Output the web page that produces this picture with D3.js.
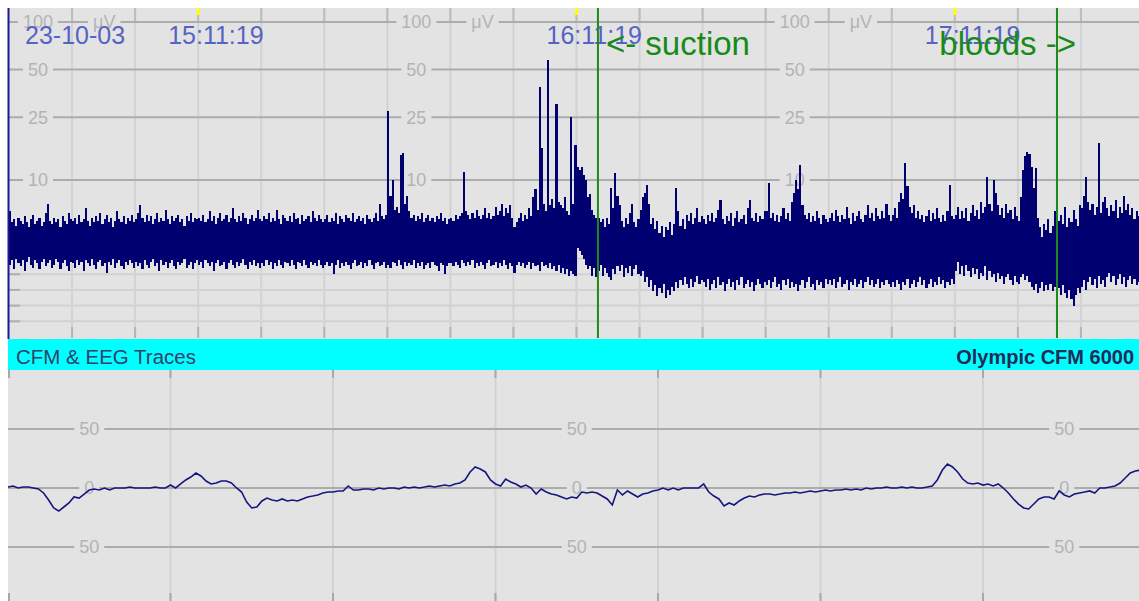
<!DOCTYPE html>
<html>
<head>
<meta charset="utf-8">
<script src="https://cdn.jsdelivr.net/npm/d3@7"></script>
<style>
  html, body { margin: 0; padding: 0; background: #ffffff; overflow: hidden; }
  svg { display: block; font-family: "Liberation Sans", Arial, sans-serif; }
</style>
</head>
<body>
<svg id="chart" width="1139" height="601"></svg>
<script>
// ---- Recording header ----
const dateLabel = "23-10-03";
const hourLabels = ["15:11:19", "16:11:19", "17:11:19"];
const hourMinutes = [30, 90, 150];            // minutes after 14:41:19

// ---- aEEG (CFM) amplitude axis, µV ----
const aeegTicks = [100, 50, 25, 10];
const aeegMinor = [1, 2, 3, 4, 5];
const aeegLabelMinutes = [4.6, 64.6, 124.6];
const aeegUnitOffset = 10.5;                  // minutes right of the "100" label

// ---- Annotations ----
const eventText = ["<- suction", "bloods ->"];
const eventMinute = [93.4, 166.2];

// ---- aEEG margins, one pair every 20 s (µV) ----
const aeegUpper = [
  8.0,7.3,7.5,7.1,7.6,7.4,7.2,7.7,7.3,7.0,7.5,7.8,7.2,7.4,7.6,7.1,7.3,7.9,8.5,7.4,7.2,7.6,7.3,7.5,7.0,7.7,7.4,7.2,7.9,7.5,
  7.4,7.6,7.2,7.8,7.3,7.5,8.2,7.4,7.1,7.6,7.3,7.7,7.4,7.9,7.2,7.5,7.8,7.3,7.6,7.0,7.4,8.0,7.5,7.3,7.7,7.2,7.6,7.4,7.8,7.3,
  7.5,7.9,8.4,7.6,7.3,7.8,7.4,7.7,7.2,7.5,7.9,7.3,7.6,7.4,8.1,7.5,7.2,7.7,7.4,7.6,7.8,7.3,7.5,7.1,7.7,7.4,7.9,7.3,7.6,7.5,
  7.6,7.4,7.8,7.3,7.5,8.0,7.4,7.7,7.2,7.6,7.9,7.4,7.5,7.8,7.3,7.6,8.2,7.5,7.3,7.7,7.4,7.9,7.6,7.2,7.5,7.8,7.4,7.6,8.1,7.5,
  7.4,7.7,7.5,7.9,7.3,7.6,7.4,8.1,7.5,7.2,7.8,7.6,7.4,7.7,7.3,7.9,7.5,7.6,7.2,7.8,7.4,7.5,7.7,7.3,8.0,7.6,7.4,7.8,7.5,7.3,
  7.5,7.8,7.3,7.6,7.4,7.9,7.2,7.7,7.5,7.3,7.8,7.6,7.4,7.9,7.3,7.5,7.7,7.4,7.6,7.2,7.8,7.5,7.3,7.6,7.9,7.4,8.5,7.7,7.5,7.8,
  27.3,9.0,10.0,8.1,8.3,7.9,14.4,14.8,8.5,9.0,8.0,7.6,7.8,7.4,7.7,7.5,7.9,7.3,7.6,7.8,7.4,7.6,7.3,7.7,7.5,7.9,7.4,7.6,7.2,7.5,
  7.6,7.4,7.8,7.5,7.7,7.9,11.2,8.0,7.8,7.5,7.9,7.6,8.1,7.7,7.5,7.8,8.2,7.6,7.9,7.5,7.7,8.3,7.8,8.0,8.5,7.7,8.2,7.9,8.4,7.6,
  7.0,7.3,7.6,7.9,7.4,7.8,7.5,8.2,7.7,8.9,9.4,8.1,38.8,16.0,8.5,8.0,57.5,8.4,8.8,8.2,30.3,8.6,8.4,8.2,8.9,8.0,7.8,25.0,8.5,16.7,
  12.0,11.5,12.0,10.8,10.0,8.9,9.1,8.1,7.8,7.6,7.6,7.3,7.5,7.0,7.6,7.2,9.5,8.2,11.0,9.0,8.4,7.4,7.0,7.6,7.2,7.9,8.5,7.3,7.0,7.5,
  8.1,8.9,9.2,9.7,8.5,7.2,7.6,6.9,7.4,6.6,7.1,6.4,7.0,6.8,7.3,6.5,7.2,9.5,8.0,7.1,7.5,6.9,7.8,7.4,7.9,7.2,7.6,8.2,7.3,7.7,
  7.5,7.2,7.8,7.4,7.9,7.3,7.6,8.1,8.7,7.5,7.2,7.7,7.4,7.9,7.1,7.6,8.0,7.3,7.5,7.8,7.2,8.2,8.7,7.6,7.4,7.9,7.3,7.7,7.5,8.0,
  8.0,9.8,7.6,7.9,7.4,7.8,7.3,7.7,8.2,7.5,7.9,7.4,8.6,9.2,10.0,9.4,12.5,8.4,7.8,7.5,7.9,7.3,7.7,7.4,8.0,7.6,7.2,7.8,7.5,7.3,
  7.6,7.9,7.4,8.1,7.7,7.3,7.8,7.5,8.3,7.6,7.2,7.9,7.4,7.7,8.0,7.5,7.3,7.8,8.4,7.6,7.9,7.4,8.2,7.7,7.5,8.0,7.6,8.5,7.8,7.4,
  7.8,8.2,7.6,8.6,9.2,8.8,12.8,9.6,8.3,7.9,8.4,7.6,8.0,7.5,7.8,7.3,7.7,8.1,7.4,7.9,7.5,8.2,7.6,7.3,7.8,7.4,8.0,9.7,7.7,7.5,
  7.8,8.3,7.5,8.0,7.6,8.2,7.4,7.9,8.4,7.7,8.1,7.5,8.6,7.9,8.3,10.4,8.5,8.0,10.0,9.2,8.4,7.8,8.2,7.6,8.5,7.9,8.1,7.5,8.3,7.7,
  7.4,8.9,11.5,14.2,15.0,14.6,12.0,9.5,11.9,7.6,7.0,6.4,7.2,6.8,7.5,6.6,7.1,8.0,8.9,7.4,7.8,7.2,8.3,7.0,7.6,7.3,8.1,7.5,7.1,8.4,
  8.2,9.0,10.4,8.6,8.1,8.5,7.8,8.3,17.2,7.9,8.6,8.9,8.2,7.7,8.4,8.0,8.7,7.6,8.3,7.9,9.0,8.1,8.5,7.8,8.2,7.5,8.0,7.7,8.3,7.9
];
const aeegLower = [
  4.6,4.9,4.3,5.0,4.7,4.5,4.9,4.2,4.8,5.1,4.6,4.4,4.9,4.7,4.3,4.8,5.0,4.5,4.7,4.9,4.4,4.6,5.0,4.8,4.3,4.7,4.9,4.5,4.2,4.8,
  4.7,4.4,4.9,4.6,4.8,4.2,4.9,4.7,4.5,5.0,4.6,4.3,4.8,4.9,4.5,4.7,4.1,4.8,4.6,5.0,4.4,4.7,4.9,4.5,4.3,4.8,4.6,4.9,4.7,4.4,
  4.8,4.5,4.7,4.3,4.9,4.6,4.4,4.8,5.0,4.5,4.7,4.2,4.9,4.6,4.8,4.4,4.7,4.9,4.5,4.3,4.8,4.6,4.7,5.0,4.4,4.6,4.8,4.3,4.7,4.9,
  4.6,4.8,4.4,4.9,4.7,4.5,4.8,4.2,4.7,4.9,4.5,4.6,4.8,4.3,4.7,4.9,4.6,4.4,4.8,4.5,4.7,5.0,4.6,4.3,4.8,4.6,4.9,4.5,4.7,4.4,
  4.7,4.5,4.9,4.6,4.8,4.3,4.7,4.5,4.9,4.6,4.4,4.8,4.7,4.5,4.9,4.6,4.3,4.8,4.7,4.5,4.9,4.6,4.4,4.8,4.6,4.7,4.5,4.9,4.6,4.4,
  4.6,4.8,4.5,4.7,4.0,4.6,4.9,4.4,4.7,4.5,4.8,4.6,4.3,4.7,4.9,4.5,4.6,4.8,4.4,4.7,4.5,4.9,4.6,4.3,4.7,4.8,4.5,4.6,4.8,4.4,
  4.6,4.4,4.8,4.7,4.5,4.9,4.6,4.3,4.8,4.5,4.7,4.6,4.9,4.4,4.7,4.5,4.8,4.3,4.6,4.7,4.4,4.8,4.6,4.5,4.2,4.7,4.6,4.0,4.5,4.7,
  4.7,4.5,4.8,4.6,4.4,4.9,4.7,4.5,4.8,4.6,4.9,4.4,4.7,4.5,4.8,4.6,4.3,4.7,4.9,4.5,4.6,4.8,4.4,4.7,4.5,4.9,4.6,4.3,4.7,4.5,
  4.1,4.6,4.8,4.5,4.7,4.4,4.6,4.8,4.3,4.7,4.5,4.6,4.2,4.8,4.5,4.6,4.4,4.7,4.3,4.5,4.2,4.6,4.1,4.4,4.0,4.3,3.9,4.2,4.0,3.9,
  5.7,5.5,5.2,5.0,4.6,4.3,4.5,3.9,4.4,3.8,4.2,4.6,3.9,4.4,4.1,3.8,3.6,4.3,4.0,4.5,4.2,4.6,3.8,4.4,4.1,4.5,3.9,4.3,4.6,4.0,
  3.9,4.2,3.5,3.8,3.2,3.6,2.9,3.3,2.6,3.1,2.8,3.4,2.5,3.0,2.7,3.2,2.9,3.5,3.1,3.6,3.3,3.8,3.4,3.1,3.7,3.2,3.5,3.9,3.4,3.6,
  3.5,3.2,3.7,3.0,3.4,3.6,3.1,3.8,3.3,3.5,2.9,3.4,3.7,3.2,3.5,3.0,3.6,3.3,3.8,3.1,3.4,3.6,3.2,3.5,2.9,3.3,3.7,3.4,3.1,3.5,
  3.3,3.6,3.1,3.5,3.8,3.2,3.4,3.0,3.6,3.3,3.7,3.1,3.5,3.2,3.4,2.9,3.3,3.6,3.1,3.5,3.8,3.2,3.4,3.0,3.6,3.3,3.5,3.1,3.7,3.4,
  3.6,3.3,3.7,3.1,3.5,3.8,3.2,3.4,3.6,3.0,3.5,3.3,3.7,3.2,3.4,3.6,3.1,3.5,3.8,3.3,3.6,3.2,3.4,3.7,3.1,3.5,3.3,3.6,3.4,3.2,
  3.5,3.2,3.6,3.4,3.0,3.5,3.3,3.7,3.1,3.4,3.6,3.2,3.5,3.8,3.3,3.6,3.1,3.4,3.7,3.2,3.5,3.3,3.8,3.4,3.6,3.1,3.5,3.3,3.7,3.4,
  4.2,4.8,4.0,4.5,3.9,4.6,4.2,3.8,4.4,4.0,4.3,3.7,4.1,3.9,4.5,3.6,4.2,3.8,4.0,3.5,4.1,3.7,3.9,3.4,3.8,4.0,3.6,3.3,3.9,3.5,
  3.4,3.8,4.0,3.6,3.9,3.5,3.2,3.0,3.4,2.8,3.1,3.5,2.9,3.3,3.0,3.4,2.9,3.2,3.6,3.1,2.7,3.3,2.8,2.5,3.0,2.4,2.0,2.7,3.1,2.8,
  3.2,3.6,3.0,3.5,3.8,3.3,3.7,3.1,3.9,3.4,3.6,3.2,3.8,4.1,3.5,3.9,3.3,3.7,4.0,3.4,3.8,3.2,3.6,3.9,3.4,3.7,3.3,3.5,3.8,3.6
];

// ---- Raw EEG trace, 32 samples per second (µV) ----
const eegTicks = [50, 0, -50];
const eegTickLabels = ["50", "0", "50"];
const eegLabelSeconds = [0.5, 3.5, 6.5];
const eegValues = [
  0.8,1.7,0,0.8,0.8,0,-0.8,-4.2,-10.2,-16.9,
  -19.5,-16.1,-12.7,-7.6,-8.5,-5.1,-1.7,-0.8,-1.7,0,
  -1.7,0,0,0,0.8,0,0,0,0,0.8,
  0,0,2.5,0,3.4,6.8,9.3,12.7,10.2,5.9,
  3.4,4.2,5.9,5.9,4.2,0,-3.4,-11.9,-16.9,-16.1,
  -11.0,-8.5,-10.2,-11.0,-9.3,-11.0,-10.2,-11.0,-9.3,-7.6,
  -6.8,-5.9,-4.2,-3.4,-3.4,-2.5,-2.5,1.7,-1.7,-1.7,
  -0.8,-0.8,-1.7,0,-0.8,0,0,-0.8,0.8,0,
  0.8,0,0.8,1.7,0.8,1.7,2.5,1.7,3.4,4.2,
  6.8,13.6,17.8,16.1,13.6,6.8,3.4,1.7,7.6,5.1,
  3.4,0.8,2.5,0,-5.1,-0.8,-3.4,-5.1,-5.9,-7.6,
  -9.3,-7.6,-8.5,-3.4,-4.2,-3.4,-4.2,-6.8,-9.3,-14.4,
  -1.7,-5.9,-2.5,-5.1,-7.6,-5.1,-4.2,-2.5,-1.7,0,
  -1.7,0,-1.7,0,0,0,0,3.4,-3.4,-6.8,
  -9.3,-15.2,-12.7,-14.4,-11.0,-8.5,-6.8,-7.6,-5.9,-5.1,
  -5.1,-5.9,-5.1,-4.2,-4.2,-3.4,-4.2,-3.4,-2.5,-3.4,
  -2.5,-1.7,-2.5,-1.7,-1.7,-0.8,-1.7,-0.8,-1.7,0,
  -0.8,0,0,0.8,0,0,0.8,0,0.8,0,
  0,0.8,1.7,6.8,15.2,20.3,17.8,13.6,7.6,4.2,
  3.4,4.2,2.5,3.4,1.7,3.4,0,-4.2,-9.3,-13.6,
  -16.9,-17.8,-13.6,-9.3,-7.6,-7.6,-9.3,-2.5,-5.9,-7.6,
  -5.1,-4.2,-3.4,-2.5,-4.2,0,0,0.8,1.7,4.2,
  8.5,12.7,14.4,15.2
];

const bandTitle = "CFM & EEG Traces";
const deviceName = "Olympic CFM 6000";

// ---- Layout ----
const PANEL_BG = "#e3e3e3";
const topPanel = { x0: 8, x1: 1139, y0: 8, y1: 339 };
const band = { y0: 339, y1: 370 };
const botPanel = { y0: 370, y1: 601 };

const svg = d3.select("#chart");

// Scales: 3 hours of aEEG, semi-logarithmic amplitude (linear 0-10, log 10-100)
const xTop = d3.scaleLinear().domain([0, 180]).range([9, 1144]);
const yLin = d3.scaleLinear().domain([0, 10]).range([337, 180]);
const yLog = d3.scaleLog().domain([10, 100]).range([180, 22]);
const yTop = v => (v <= 10 ? yLin(v) : yLog(v));

// Scales: 7 seconds of raw EEG
const xBot = d3.scaleLinear().domain([0, 7]).range([8, 1145.5]);
const yBot = d3.scaleLinear().domain([-100, 100]).range([606, 370]);

// Backgrounds
svg.append("rect").attr("x", topPanel.x0).attr("y", topPanel.y0)
  .attr("width", topPanel.x1 - topPanel.x0).attr("height", topPanel.y1 - topPanel.y0)
  .attr("fill", PANEL_BG);
svg.append("rect").attr("x", topPanel.x0).attr("y", botPanel.y0)
  .attr("width", topPanel.x1 - topPanel.x0).attr("height", botPanel.y1 - botPanel.y0)
  .attr("fill", PANEL_BG);

const defs = svg.append("defs");
defs.append("clipPath").attr("id", "clipTop").append("rect")
  .attr("x", 9).attr("y", topPanel.y0).attr("width", 1139 - 9).attr("height", topPanel.y1 - topPanel.y0);
defs.append("clipPath").attr("id", "clipBot").append("rect")
  .attr("x", 8).attr("y", botPanel.y0).attr("width", 1139 - 8).attr("height", botPanel.y1 - botPanel.y0);

// ================= aEEG panel =================
const gTop = svg.append("g");
const tenMinutes = d3.range(10, 180, 10);

// vertical grid every 10 minutes
gTop.selectAll("line.vgrid").data(tenMinutes).join("line")
  .attr("x1", d => xTop(d)).attr("x2", d => xTop(d))
  .attr("y1", topPanel.y0).attr("y2", topPanel.y1 - 2)
  .attr("stroke", "#d2d2d2").attr("stroke-width", 2);
// darker ticks at top and bottom edge
gTop.selectAll("line.vtickT").data(tenMinutes).join("line")
  .attr("x1", d => xTop(d)).attr("x2", d => xTop(d))
  .attr("y1", topPanel.y0).attr("y2", yTop(100))
  .attr("stroke", "#bcbcbc").attr("stroke-width", 2);
gTop.selectAll("line.vtickB").data(tenMinutes).join("line")
  .attr("x1", d => xTop(d)).attr("x2", d => xTop(d))
  .attr("y1", 327).attr("y2", topPanel.y1 - 1)
  .attr("stroke", "#b4b4b4").attr("stroke-width", 2);

// linear-range minor lines
gTop.selectAll("line.minor").data(aeegMinor).join("line")
  .attr("x1", 9).attr("x2", 1139)
  .attr("y1", d => yTop(d)).attr("y2", d => yTop(d))
  .attr("stroke", "#d2d2d2").attr("stroke-width", 2);
gTop.selectAll("line.minorTick").data(aeegMinor).join("line")
  .attr("x1", 9).attr("x2", 20)
  .attr("y1", d => yTop(d)).attr("y2", d => yTop(d))
  .attr("stroke", "#b0b0b0").attr("stroke-width", 2);

// major amplitude lines
gTop.selectAll("line.major").data(aeegTicks).join("line")
  .attr("x1", 9).attr("x2", 1139)
  .attr("y1", d => yTop(d)).attr("y2", d => yTop(d))
  .attr("stroke", "#acacac").attr("stroke-width", 2);

// gap-backed grey axis labels
function gapLabel(g, text, x, y, size) {
  const grp = g.append("g");
  const t = grp.append("text").attr("x", x).attr("y", y + size * 0.36)
    .attr("text-anchor", "middle").attr("font-size", size + "px")
    .attr("fill", "#b3b3b3").text(text);
  const bb = t.node().getBBox();
  grp.insert("rect", "text").attr("x", bb.x - 5).attr("y", y - 3)
    .attr("width", bb.width + 10).attr("height", 6).attr("fill", PANEL_BG);
}
aeegLabelMinutes.forEach(m => {
  aeegTicks.forEach(v => gapLabel(gTop, String(v), xTop(m), yTop(v), 18));
  gapLabel(gTop, "\u03bcV", xTop(m + aeegUnitOffset), yTop(100), 18);
});

// hour markers
gTop.selectAll("rect.hour").data(hourMinutes).join("rect")
  .attr("x", d => xTop(d) - 1.5).attr("y", topPanel.y0)
  .attr("width", 3).attr("height", 7).attr("fill", "#ffff00");

// aEEG trace: one min-max bar per 20-second segment, snapped to whole pixels
gTop.append("g").attr("clip-path", "url(#clipTop)")
  .attr("shape-rendering", "crispEdges")
  .selectAll("rect").data(aeegUpper).join("rect")
  .attr("x", (d, i) => Math.round(xTop(i / 3)))
  .attr("width", (d, i) => Math.round(xTop((i + 1) / 3)) - Math.round(xTop(i / 3)))
  .attr("y", d => Math.round(yTop(d)))
  .attr("height", (d, i) => Math.round(yTop(aeegLower[i])) - Math.round(yTop(d)))
  .attr("fill", "#000070");

// date and hour labels
const labelColor = "#5563c5";
gTop.append("text").attr("x", 25).attr("y", 44).attr("font-size", "25px")
  .attr("fill", labelColor).text(dateLabel);
gTop.selectAll("text.hourLabel").data(hourLabels).join("text")
  .attr("x", (d, i) => xTop(hourMinutes[i]) - 30).attr("y", 44)
  .attr("font-size", "25px").attr("fill", labelColor).text(d => d);

// event markers
gTop.selectAll("line.event").data(eventMinute).join("line")
  .attr("x1", d => xTop(d)).attr("x2", d => xTop(d))
  .attr("y1", topPanel.y0).attr("y2", topPanel.y1 - 1)
  .attr("stroke", "#1c8a1c").attr("stroke-width", 2);
gTop.selectAll("text.event").data(eventText).join("text")
  .attr("x", (d, i) => i === 0 ? xTop(eventMinute[i]) + 8 : xTop(eventMinute[i]) + 19)
  .attr("text-anchor", (d, i) => i === 0 ? "start" : "end")
  .attr("y", 55).attr("font-size", "33px").attr("fill", "#178a17").text(d => d);

// left border
svg.append("line").attr("x1", 8.5).attr("x2", 8.5)
  .attr("y1", topPanel.y0).attr("y2", topPanel.y1)
  .attr("stroke", "#1a1a96").attr("stroke-width", 2);

// ================= title band =================
svg.append("rect").attr("x", 8).attr("y", band.y0).attr("width", 1139 - 8)
  .attr("height", band.y1 - band.y0).attr("fill", "#00ffff");
svg.append("text").attr("x", 16).attr("y", 364).attr("font-size", "20.5px")
  .attr("fill", "#35406a").text(bandTitle);
svg.append("text").attr("x", 1134).attr("y", 364).attr("text-anchor", "end")
  .attr("font-size", "20px").attr("font-weight", "bold")
  .attr("fill", "#252b58").text(deviceName);

// ================= EEG panel =================
const gBot = svg.append("g");
const seconds = d3.range(1, 7);
gBot.selectAll("line.vgrid").data(seconds).join("line")
  .attr("x1", d => xBot(d)).attr("x2", d => xBot(d))
  .attr("y1", botPanel.y0).attr("y2", botPanel.y1)
  .attr("stroke", "#d2d2d2").attr("stroke-width", 2);
gBot.selectAll("line.vtickT").data([0].concat(seconds)).join("line")
  .attr("x1", d => xBot(d) + (d === 0 ? 1 : 0)).attr("x2", d => xBot(d) + (d === 0 ? 1 : 0))
  .attr("y1", botPanel.y0).attr("y2", botPanel.y0 + 8)
  .attr("stroke", "#a8a8a8").attr("stroke-width", 2);
gBot.selectAll("line.vtickB").data([0].concat(seconds)).join("line")
  .attr("x1", d => xBot(d) + (d === 0 ? 1 : 0)).attr("x2", d => xBot(d) + (d === 0 ? 1 : 0))
  .attr("y1", botPanel.y1 - 8).attr("y2", botPanel.y1)
  .attr("stroke", "#a8a8a8").attr("stroke-width", 2);

gBot.selectAll("line.major").data(eegTicks).join("line")
  .attr("x1", 8).attr("x2", 1139)
  .attr("y1", d => yBot(d)).attr("y2", d => yBot(d))
  .attr("stroke", "#acacac").attr("stroke-width", 2);
eegLabelSeconds.forEach(s => {
  eegTicks.forEach((v, i) => gapLabel(gBot, eegTickLabels[i], xBot(s), yBot(v), 18));
});

const eegLine = d3.line()
  .x((d, i) => xBot(i / 32))
  .y(d => yBot(d));
gBot.append("path").attr("clip-path", "url(#clipBot)")
  .datum(eegValues).attr("d", eegLine)
  .attr("fill", "none").attr("stroke", "#16167e").attr("stroke-width", 1.6)
  .attr("stroke-linejoin", "miter");
</script>
</body>
</html>
